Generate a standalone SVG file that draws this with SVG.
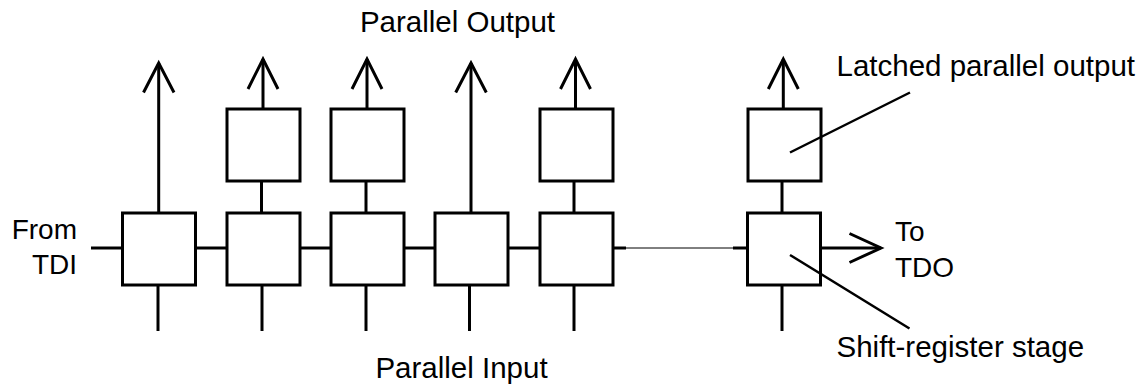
<svg xmlns="http://www.w3.org/2000/svg" width="1143" height="392" viewBox="0 0 1143 392">
<style>
.box{fill:#fff;stroke:#000;stroke-width:3}
.ln{fill:none;stroke:#000;stroke-width:3}
.thin{fill:none;stroke:#000;stroke-width:1}
text{font-family:"Liberation Sans",Arial,sans-serif;font-size:29.5px;fill:#000}
text.io{font-size:28px}
</style>
<rect width="1143" height="392" fill="#fff"/>
<g id="connectors">
  <line class="ln" x1="91" y1="248" x2="122.5" y2="248"/>
  <line class="ln" x1="195.5" y1="248" x2="227" y2="248"/>
  <line class="ln" x1="300" y1="248" x2="331" y2="248"/>
  <line class="ln" x1="404" y1="248" x2="435" y2="248"/>
  <line class="ln" x1="508" y1="248" x2="540" y2="248"/>
  <line class="ln" x1="613" y1="248" x2="626" y2="248"/>
  <line class="thin" x1="626" y1="248" x2="733" y2="248"/>
  <line class="ln" x1="733" y1="248" x2="747.5" y2="248"/>
  <line class="ln" x1="820.5" y1="248" x2="881" y2="248"/>
  <polyline class="ln" points="849.5,233.5 881,248 849.5,262.5"/>
  <line class="ln" x1="158" y1="285" x2="158" y2="331"/>
  <line class="ln" x1="262" y1="285" x2="262" y2="331"/>
  <line class="ln" x1="366" y1="285" x2="366" y2="331"/>
  <line class="ln" x1="469.5" y1="285" x2="469.5" y2="331"/>
  <line class="ln" x1="574" y1="285" x2="574" y2="331"/>
  <line class="ln" x1="782" y1="285" x2="782" y2="331"/>
  <line class="ln" x1="158.7" y1="213" x2="158.7" y2="63"/>
  <polyline class="ln" points="143.5,92.5 158.7,63 174,92.5"/>
  <line class="ln" x1="471" y1="213" x2="471" y2="63"/>
  <polyline class="ln" points="455.7,92.5 471,63 486.3,92.5"/>
  <line class="ln" x1="261.5" y1="181" x2="261.5" y2="213"/>
  <line class="ln" x1="366" y1="181" x2="366" y2="213"/>
  <line class="ln" x1="574" y1="181" x2="574" y2="213"/>
  <line class="ln" x1="782" y1="181" x2="782" y2="213"/>
  <line class="ln" x1="263" y1="109" x2="263" y2="59"/>
  <polyline class="ln" points="248,89 263,59 278,89"/>
  <line class="ln" x1="367" y1="109" x2="367" y2="59"/>
  <polyline class="ln" points="352,89 367,59 382,89"/>
  <line class="ln" x1="575.5" y1="109" x2="575.5" y2="59"/>
  <polyline class="ln" points="560.5,89 575.5,59 590.5,89"/>
  <line class="ln" x1="783.3" y1="109" x2="783.3" y2="59"/>
  <polyline class="ln" points="768.3,89 783.3,59 798.3,89"/>
</g>
<g id="stage1"><rect class="box" x="122.5" y="213" width="73" height="72"/></g>
<g id="stage2"><rect class="box" x="227" y="213" width="73" height="72"/></g>
<g id="stage3"><rect class="box" x="331" y="213" width="73" height="72"/></g>
<g id="stage4"><rect class="box" x="435" y="213" width="73" height="72"/></g>
<g id="stage5"><rect class="box" x="540" y="213" width="73" height="72"/></g>
<g id="stage6"><rect class="box" x="747.5" y="213" width="73" height="72"/></g>
<g id="latch2"><rect class="box" x="227" y="109" width="73" height="72"/></g>
<g id="latch3"><rect class="box" x="331" y="109" width="73" height="72"/></g>
<g id="latch5"><rect class="box" x="540" y="109" width="73" height="72"/></g>
<g id="latch6"><rect class="box" x="748" y="109" width="73" height="72"/></g>
<g id="leaders">
  <line class="ln" x1="910" y1="92.5" x2="790" y2="152.5" style="stroke-width:2.5"/>
  <line class="ln" x1="790" y1="255" x2="909.5" y2="328.5" style="stroke-width:2.5"/>
</g>
<g id="labels">
  <text x="457.5" y="32" text-anchor="middle">Parallel Output</text>
  <text x="461.5" y="378" text-anchor="middle">Parallel Input</text>
  <text class="io" x="77" y="239" text-anchor="end">From</text>
  <text class="io" x="77" y="274" text-anchor="end">TDI</text>
  <text class="io" x="895" y="241">To</text>
  <text class="io" x="895" y="277">TDO</text>
  <text x="836.5" y="76">Latched parallel output</text>
  <text x="836.5" y="357">Shift-register stage</text>
</g>
</svg>
